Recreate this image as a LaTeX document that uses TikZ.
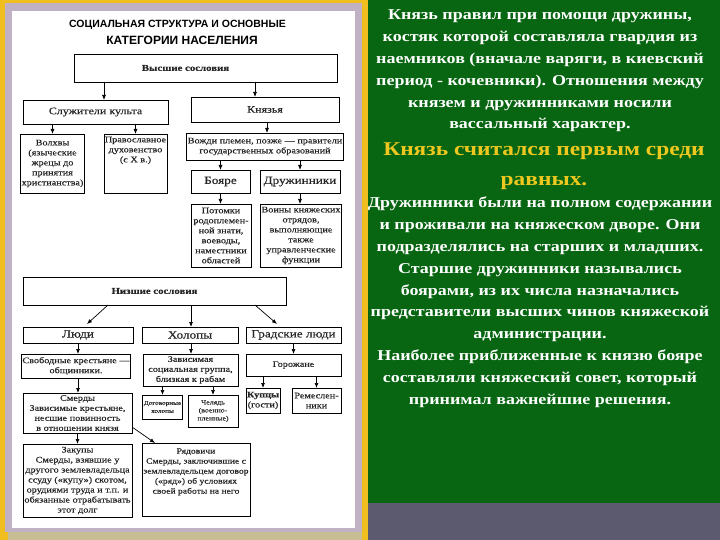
\documentclass[tikz,border=0pt]{standalone}
\usepackage{fontspec}
\setmainfont{Liberation Serif}
\newfontfamily\dg[FakeStretch=1.2,FakeBold=0.3]{Liberation Serif}
\newfontfamily\rt[FakeStretch=1.2]{Liberation Serif}
\newfontfamily\ttl{Liberation Sans}
\usetikzlibrary{arrows.meta,calc}
\definecolor{slidegreen}{RGB}{8,102,18}
\definecolor{slidegrey}{RGB}{92,90,110}
\definecolor{frameyellow}{RGB}{240,190,30}
\definecolor{framelav}{RGB}{192,178,196}
\definecolor{frametan}{RGB}{200,190,150}
\definecolor{goldtxt}{RGB}{238,200,30}
\begin{document}
\begin{tikzpicture}[x=1pt,y=-1pt,
  box/.style={draw=black, line width=0.7pt, fill=white, inner sep=1pt, outer sep=0pt, align=center, text=black!85},
  sm/.style={font=\dg\fontsize{8.5}{10}\selectfont},
  mid/.style={font=\dg\fontsize{10}{12}\selectfont},
  big/.style={font=\dg\fontsize{11}{13}\selectfont},
  hd/.style={font=\dg\bfseries\fontsize{9}{11}\selectfont},
  arr/.style={line width=0.7pt, -{Latex[length=5pt,width=4pt]}},
  rtext/.style={text=white, align=center, inner sep=0pt, font=\rt\bfseries\fontsize{15}{21.8}\selectfont}
]
\useasboundingbox (0,0) rectangle (720,540);
% backgrounds
\fill[slidegrey] (0,0) rectangle (720,540);
\fill[slidegreen] (368,0) rectangle (720,503);
\fill[frameyellow] (0,0) rectangle (368,540);
\fill[framelav] (5,3) rectangle (362,532);
\fill[frametan] (8,532) rectangle (362,540);
\fill[white] (12,11) rectangle (355,528);

% title
\node[font=\ttl\bfseries\fontsize{10.5}{12}\selectfont] (t1) at (177.5,25) {СОЦИАЛЬНАЯ СТРУКТУРА И ОСНОВНЫЕ};
\node[font=\ttl\bfseries\fontsize{12}{14}\selectfont] (t2) at (182,40) {КАТЕГОРИИ НАСЕЛЕНИЯ};

% upper part
\node[box,hd,minimum width=263,minimum height=28] (vys) at (205.5,68) {Высшие сословия\hspace*{40pt}};
\node[box,mid,minimum width=145,minimum height=24] (serv) at (95.5,112) {Служители культа};
\node[box,mid,minimum width=148,minimum height=25] (knz) at (265,109.5) {Князья};
\node[box,sm,minimum width=61,minimum height=59] (volhv) at (52.5,163.5) {Волхвы\\(языческие\\жрецы до\\принятия\\христианства)};
\node[box,sm,minimum width=63,minimum height=59] (prav) at (135.5,163.5) {Православное\\духовенство\\(с X в.)\\[18pt]};
\node[box,sm,minimum width=148,minimum height=27] (vozhdi) at (265,146.5) {Вожди племен, позже — правители\\государственных образований};
\node[box,big,minimum width=59,minimum height=23] (boyare) at (220.5,181.5) {Бояре};
\node[box,big,minimum width=80,minimum height=23] (druzh) at (300,181.5) {Дружинники};
\node[box,sm,minimum width=60,minimum height=63] (potomki) at (221,235.5) {Потомки\\родоплемен-\\ной знати,\\воеводы,\\наместники\\областей};
\node[box,sm,minimum width=80,minimum height=63] (voiny) at (301,235.5) {Воины княжеских\\отрядов,\\выполняющие\\также\\управленческие\\функции};

% lower part
\node[box,hd,minimum width=263,minimum height=28] (niz) at (154.5,291) {Низшие сословия};
\node[box,big,minimum width=110,minimum height=16] (lyudi) at (78,335) {Люди};
\node[box,big,minimum width=96,minimum height=16] (holopy) at (190,335) {Холопы};
\node[box,big,minimum width=95,minimum height=16] (grad) at (293.5,335) {Градские люди};
\node[box,sm,minimum width=106,minimum height=24] (svob) at (76,366) {Свободные крестьяне —\\общинники.};
\node[box,sm,minimum width=95,minimum height=32] (zavis) at (190.5,370) {Зависимая\\социальная группа,\\близкая к рабам};
\node[box,sm,minimum width=95,minimum height=22] (gorozh) at (293.5,365) {Горожане};
\node[box,sm,minimum width=32,minimum height=25] (kupcy) at (263,400.5) {\bfseries Купцы\\(гости)};
\node[box,sm,minimum width=49,minimum height=25] (remes) at (316.5,400.5) {Ремеслен-\\ники};
\node[box,sm,minimum width=109,minimum height=40] (smerdy) at (77.5,413) {Смерды\\Зависимые крестьяне,\\несшие повинность\\в отношении князя};
\node[box,font=\dg\fontsize{6}{8}\selectfont,minimum width=39,minimum height=24] (dogov) at (162.5,407) {Договорные\\холопы};
\node[box,font=\dg\fontsize{6.5}{8}\selectfont,minimum width=50,minimum height=32] (chelyad) at (213,411) {Челядь\\(военно-\\пленные)};
\node[box,sm,minimum width=109,minimum height=73] (zakupy) at (77.5,480.5) {Закупы\\Смерды, взявшие у\\другого землевладельца\\ссуду («купу») скотом,\\орудиями труда и т.п. и\\обязанные отрабатывать\\этот долг};
\node[box,font=\dg\fontsize{8}{10}\selectfont,minimum width=108,minimum height=73] (ryad) at (196,479.5) {Рядовичи\\Смерды, заключившие с\\землевладельцем договор\\(«ряд») об условиях\\своей работы на него\\[7pt]\mbox{}};

% arrows upper
\draw[arr] ([xshift=8.5pt]serv.north |- vys.south) -- ([xshift=8.5pt]serv.north);
\draw[arr] ([xshift=-10pt]knz.north |- vys.south) -- ([xshift=-10pt]knz.north);
\draw[arr] (volhv.north |- serv.south) -- (volhv.north);
\draw[arr] (prav.north |- serv.south) -- (prav.north);
\draw[arr] ([xshift=2pt]knz.south) -- ([xshift=2pt]vozhdi.north);
\draw[arr] (boyare.north |- vozhdi.south) -- (boyare.north);
\draw[arr] (druzh.north |- vozhdi.south) -- (druzh.north);
\draw[arr] (boyare.south) -- (potomki.north -| boyare.south);
\draw[arr] (druzh.south) -- (voiny.north -| druzh.south);
% arrows lower
\draw[arr] ([xshift=-46.5pt]niz.south) -- ([xshift=9pt,yshift=3pt]lyudi.north);
\draw[arr] ([xshift=1pt]holopy.north |- niz.south) -- ([xshift=1pt]holopy.north);
\draw[arr] ([xshift=100.5pt]niz.south) -- ([xshift=-16.5pt,yshift=3pt]grad.north);
\draw[arr] (lyudi.south) -- (svob.north -| lyudi.south);
\draw[arr] ([xshift=1pt]holopy.south) -- ([xshift=1pt]zavis.north -| holopy.south);
\draw[arr] (grad.south) -- (gorozh.north -| grad.south);
\draw[arr] (kupcy.north |- gorozh.south) -- (kupcy.north);
\draw[arr] (remes.north |- gorozh.south) -- (remes.north);
\draw[arr] ([xshift=2pt]svob.south) -- ([xshift=2pt]smerdy.north -| svob.south);
\draw[arr] (dogov.north |- zavis.south) -- (dogov.north);
\draw[arr] (chelyad.north |- zavis.south) -- (chelyad.north);
\draw[arr] (smerdy.south) -- (zakupy.north -| smerdy.south);
\draw[arr] ([yshift=6pt]smerdy.south east) -- ([xshift=-41pt]ryad.north);

% right text (base anchor = baseline of last line)
\node[rtext, anchor=base] (p1) at (540,129) {Князь правил при помощи дружины,\\костяк которой составляла гвардия из\\наемников (вначале варяги, в киевский\\период - кочевники). Отношения между\\князем и дружинниками носили\\вассальный характер.};
\node[rtext, text=goldtxt, font=\rt\bfseries\fontsize{19.5}{29.5}\selectfont, anchor=base] (p2) at (544,185.5) {Князь считался первым среди\\равных.};
\node[rtext, anchor=base] (p3) at (540,404) {Дружинники были на полном содержании\\и проживали на княжеском дворе. Они\\подразделялись на старших и младших.\\Старшие дружинники назывались\\боярами, из их числа назначались\\представители высших чинов княжеской\\администрации.\\Наиболее приближенные к князю бояре\\составляли княжеский совет, который\\принимал важнейшие решения.};
\end{tikzpicture}
\end{document}
